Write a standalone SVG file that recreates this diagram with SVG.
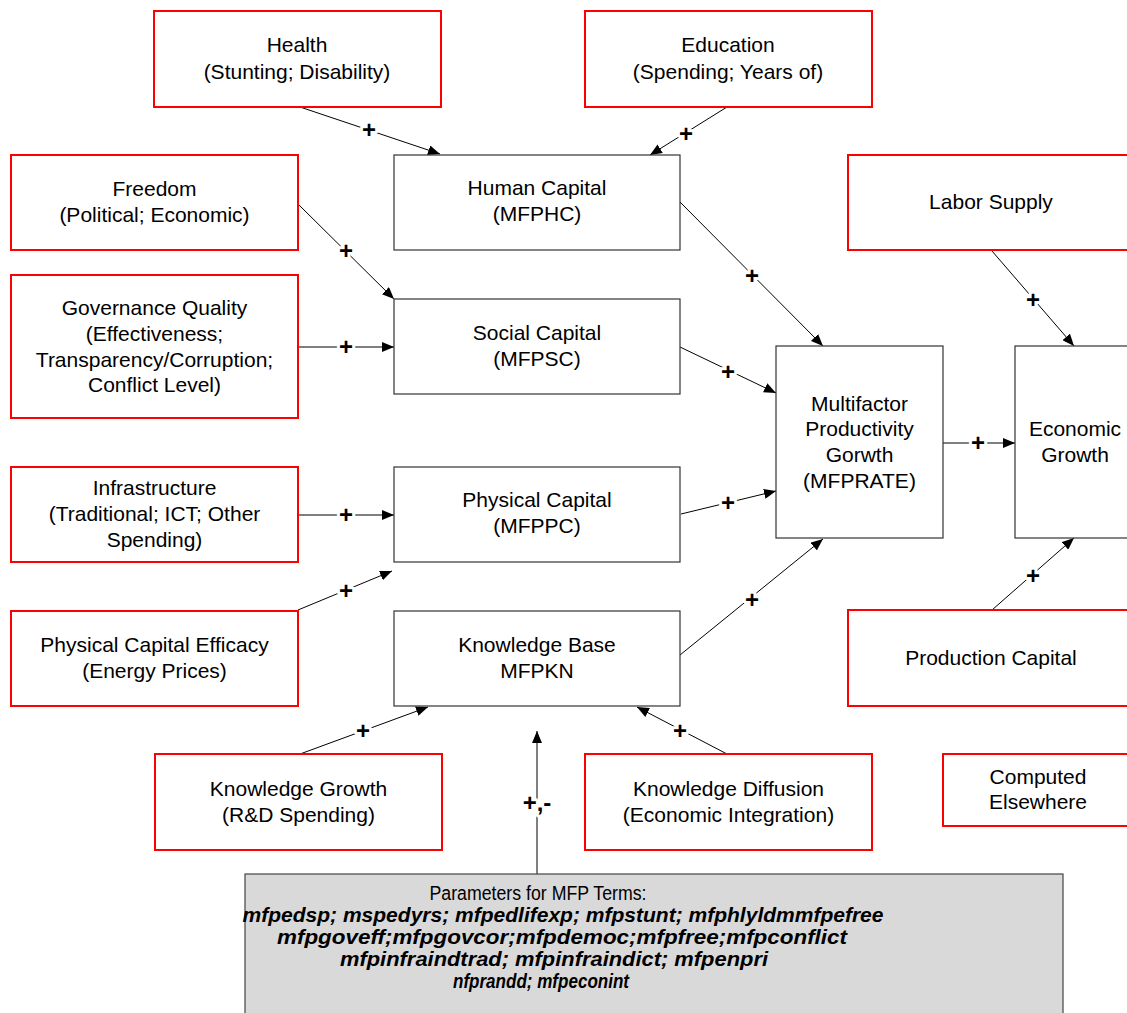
<svg xmlns="http://www.w3.org/2000/svg" width="1127" height="1013" viewBox="0 0 1127 1013">
<style>
.red{fill:#fff;stroke:#ff0000;stroke-width:2}
.blk{fill:#fff;stroke:#333;stroke-width:1.2}
.par{fill:#d9d9d9;stroke:#444;stroke-width:1.2}
.t{font-family:"Liberation Sans",Arial,sans-serif;font-size:21px;fill:#000;text-anchor:middle}
.pt{font-family:"Liberation Sans Narrow","Liberation Sans",Arial,sans-serif;font-size:20px;fill:#000;text-anchor:middle}
.pb{font-weight:bold;font-style:italic}
.c{stroke:#000;stroke-width:1;fill:none;marker-end:url(#ah)}
.pl{font-family:"Liberation Sans",Arial,sans-serif;font-size:24px;font-weight:bold;fill:#000;text-anchor:middle;stroke:#fff;stroke-width:6;paint-order:stroke;stroke-linejoin:round}
</style>
<defs>
<marker id="ah" markerUnits="userSpaceOnUse" markerWidth="12" markerHeight="10" refX="12" refY="5" orient="auto">
<path d="M0,0 L12,5 L0,10 z" fill="#000"/>
</marker>
</defs>
<rect width="1127" height="1013" fill="#fff"/>

<g id="connectors">
<line class="c" x1="300" y1="107" x2="440" y2="154"/>
<line class="c" x1="727" y1="107" x2="650" y2="155"/>
<line class="c" x1="298" y1="204" x2="394" y2="299"/>
<line class="c" x1="298" y1="347" x2="394" y2="347"/>
<line class="c" x1="298" y1="515" x2="394" y2="515"/>
<line class="c" x1="298" y1="610" x2="392" y2="571"/>
<line class="c" x1="300" y1="754" x2="428" y2="707"/>
<line class="c" x1="727" y1="754" x2="637" y2="707"/>
<line class="c" x1="537" y1="874" x2="537" y2="731"/>
<line class="c" x1="680" y1="202" x2="823" y2="346"/>
<line class="c" x1="680" y1="347" x2="776" y2="393"/>
<line class="c" x1="681" y1="514" x2="776" y2="491"/>
<line class="c" x1="680" y1="655" x2="823" y2="539"/>
<line class="c" x1="943" y1="443" x2="1015" y2="443"/>
<line class="c" x1="992" y1="251" x2="1074" y2="346"/>
<line class="c" x1="992" y1="610" x2="1074" y2="538"/>
<text class="pl" x="369" y="138">+</text>
<text class="pl" x="686" y="142">+</text>
<text class="pl" x="346" y="259">+</text>
<text class="pl" x="346" y="355">+</text>
<text class="pl" x="346" y="523">+</text>
<text class="pl" x="346" y="599">+</text>
<text class="pl" x="363" y="739">+</text>
<text class="pl" x="680" y="739">+</text>
<text class="pl" x="537" y="811">+,-</text>
<text class="pl" x="752" y="284">+</text>
<text class="pl" x="728" y="380">+</text>
<text class="pl" x="728" y="511">+</text>
<text class="pl" x="752" y="608">+</text>
<text class="pl" x="978" y="451">+</text>
<text class="pl" x="1033" y="308">+</text>
<text class="pl" x="1033" y="584">+</text>
</g>

<g id="health"><rect class="red" x="154" y="11" width="287" height="96"/>
<text class="t" x="297" y="52">Health</text><text class="t" x="297" y="79">(Stunting; Disability)</text></g>

<g id="education"><rect class="red" x="585" y="11" width="287" height="96"/>
<text class="t" x="728" y="52">Education</text><text class="t" x="728" y="79">(Spending; Years of)</text></g>

<g id="human-capital"><rect class="blk" x="394" y="155" width="286" height="95"/>
<text class="t" x="537" y="195">Human Capital</text><text class="t" x="537" y="221">(MFPHC)</text></g>

<g id="freedom"><rect class="red" x="11" y="155" width="287" height="95"/>
<text class="t" x="154.5" y="196">Freedom</text><text class="t" x="154.5" y="222">(Political; Economic)</text></g>

<g id="labor-supply"><rect class="red" x="848" y="155" width="287" height="95"/>
<text class="t" x="991" y="209">Labor Supply</text></g>

<g id="governance"><rect class="red" x="11" y="275" width="287" height="143"/>
<text class="t" x="154.5" y="315">Governance Quality</text>
<text class="t" x="154.5" y="341">(Effectiveness;</text>
<text class="t" x="154.5" y="367">Transparency/Corruption;</text>
<text class="t" x="154.5" y="392">Conflict Level)</text></g>

<g id="social-capital"><rect class="blk" x="394" y="299" width="286" height="95"/>
<text class="t" x="537" y="340">Social Capital</text><text class="t" x="537" y="366">(MFPSC)</text></g>

<g id="mfp"><rect class="blk" x="776" y="346" width="167" height="192"/>
<text class="t" x="859.5" y="411">Multifactor</text>
<text class="t" x="859.5" y="436">Productivity</text>
<text class="t" x="859.5" y="462">Gorwth</text>
<text class="t" x="859.5" y="488">(MFPRATE)</text></g>

<g id="economic-growth"><rect class="blk" x="1015" y="346" width="122" height="192"/>
<text class="t" x="1075" y="436">Economic</text><text class="t" x="1075" y="462">Growth</text></g>

<g id="infrastructure"><rect class="red" x="11" y="467" width="287" height="95"/>
<text class="t" x="154.5" y="495">Infrastructure</text>
<text class="t" x="154.5" y="521">(Traditional; ICT; Other</text>
<text class="t" x="154.5" y="547">Spending)</text></g>

<g id="physical-capital"><rect class="blk" x="394" y="467" width="286" height="95"/>
<text class="t" x="537" y="507">Physical Capital</text><text class="t" x="537" y="533">(MFPPC)</text></g>

<g id="pc-efficacy"><rect class="red" x="11" y="611" width="287" height="95"/>
<text class="t" x="154.5" y="652">Physical Capital Efficacy</text><text class="t" x="154.5" y="678">(Energy Prices)</text></g>

<g id="knowledge-base"><rect class="blk" x="394" y="611" width="286" height="95"/>
<text class="t" x="537" y="652">Knowledge Base</text><text class="t" x="537" y="678">MFPKN</text></g>

<g id="production-capital"><rect class="red" x="848" y="610" width="287" height="96"/>
<text class="t" x="991" y="665">Production Capital</text></g>

<g id="knowledge-growth"><rect class="red" x="155" y="754" width="287" height="96"/>
<text class="t" x="298.5" y="796">Knowledge Growth</text><text class="t" x="298.5" y="822">(R&amp;D Spending)</text></g>

<g id="knowledge-diffusion"><rect class="red" x="585" y="754" width="287" height="96"/>
<text class="t" x="728.5" y="796">Knowledge Diffusion</text><text class="t" x="728.5" y="822">(Economic Integration)</text></g>

<g id="computed-elsewhere"><rect class="red" x="943" y="754" width="192" height="72"/>
<text class="t" x="1038" y="784">Computed</text><text class="t" x="1038" y="809">Elsewhere</text></g>

<g id="parameters"><rect class="par" x="245" y="874" width="818" height="150"/>
<text class="pt" x="538" y="900" textLength="217" lengthAdjust="spacingAndGlyphs">Parameters for MFP Terms:</text>
<text class="pt pb" x="563" y="922" textLength="641" lengthAdjust="spacingAndGlyphs">mfpedsp; mspedyrs; mfpedlifexp; mfpstunt; mfphlyldmmfpefree</text>
<text class="pt pb" x="562" y="944" textLength="570" lengthAdjust="spacingAndGlyphs">mfpgoveff;mfpgovcor;mfpdemoc;mfpfree;mfpconflict</text>
<text class="pt pb" x="554" y="966" textLength="428" lengthAdjust="spacingAndGlyphs">mfpinfraindtrad; mfpinfraindict; mfpenpri</text>
<text class="pt pb" x="541" y="988" textLength="176" lengthAdjust="spacingAndGlyphs">nfprandd; mfpeconint</text></g>
</svg>
